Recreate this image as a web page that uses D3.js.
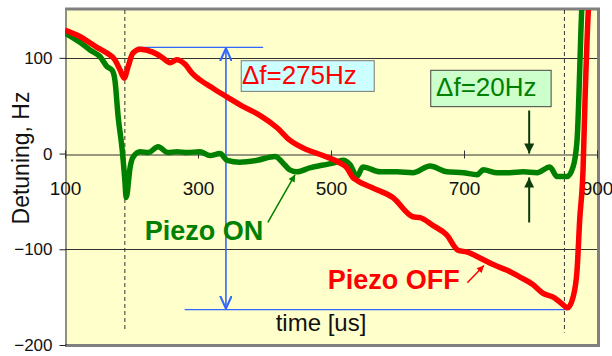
<!DOCTYPE html>
<html>
<head>
<meta charset="utf-8">
<script src="https://cdn.jsdelivr.net/npm/d3@7"></script>
<style>
  body { margin: 0; background: #fff; }
  svg text { font-family: "Liberation Sans", Arial, sans-serif; }
</style>
</head>
<body>
<div id="chart"></div>
<script>
"use strict";

/* global d3 */

// Piezo OFF (red)
const offTime = [100, 123, 148, 163, 175, 183, 189, 195, 202, 213, 232, 247, 258, 268, 281, 291, 303,
  323, 344, 368, 393, 419, 438, 464, 488, 514, 524, 533, 539, 563, 593, 623, 634, 653, 674, 691, 705,
  724, 744, 765, 784, 804, 819, 834, 844, 856, 864, 870, 874, 879, 882, 887, 890];
const offValue = [129, 122, 111, 105, 98, 87, 79, 91, 105, 109, 106, 100, 95, 98, 93, 84, 77,
  68, 59, 49, 40, 27, 14, 4, -2, -10, -15, -25, -28, -36, -46, -66, -67, -75, -85, -101, -103,
  -109, -116, -122, -129, -137, -146, -150, -155, -161, -150, -122, -69, -17, 56, 150, 181];

// Piezo ON (green)
const onTime = [100, 123, 138, 153, 163, 171, 175, 180, 186, 190, 192, 198, 202, 213, 225, 240, 255,
  268, 284, 303, 318, 333, 344, 363, 389, 416, 428, 438, 449, 468, 488, 503, 518, 529, 539, 548,
  574, 599, 623, 649, 674, 699, 720, 729, 750, 769, 789, 810, 829, 840, 855, 864, 870, 877, 879];
const onValue = [126, 116, 108, 101, 91, 87, 77, 38, 4, -28, -46, -14, -4, 2, 1, 7, 1,
  2, 1, 2, -2, 0, -7, -9, -7, -3, -10, -17, -19, -15, -12, -10, -7, -12, -24, -14,
  -19, -19, -20, -13, -19, -20, -22, -17, -20, -20, -19, -20, -14, -24, -24, -14, 14, 150, 181];

const xTicks = [100, 300, 500, 700, 900];
const yTicks = [-200, -100, 0, 100];
const gridValues = [100, -100];

// dashed time markers and their lower ends
const markerTimes = [190, 851];
const markerEnds = [-184, -187];

// delta f = 275 Hz span
const spanTime = 342;
const spanValues = [110, -162];
const topRefTimes = [208, 398];
const topRefValue = 111;
const bottomRefTimes = [280, 856];
const bottomRefValue = -163;

// delta f = 20 Hz arrows
const smallArrowTime = 798;
const smallDownArrow = [45, 0];
const smallUpArrow = [-72, -25];

const width = 612;
const height = 356;

const x = d3.scaleLinear().domain([100, 900]).range([65, 597]);
const y = d3.scaleLinear().domain([-200, 150]).range([345, 10]);

const svg = d3.select('#chart')
  .append('svg')
  .attr('width', width)
  .attr('height', height);

const defs = svg.append('defs');

defs.append('clipPath')
  .attr('id', 'plot-clip')
  .append('rect')
  .attr('x', x.range()[0])
  .attr('y', y.range()[1])
  .attr('width', x.range()[1] - x.range()[0])
  .attr('height', y.range()[0] - y.range()[1]);

let addMarker = (id, color, w, h, open) => {
  let m = defs.append('marker')
    .attr('id', id)
    .attr('viewBox', '0 0 10 10')
    .attr('refX', 10)
    .attr('refY', 5)
    .attr('markerUnits', 'userSpaceOnUse')
    .attr('markerWidth', w)
    .attr('markerHeight', h)
    .attr('orient', 'auto-start-reverse');
  if (open) {
    m.append('path')
      .attr('d', 'M0,0.5 L10,5 L0,9.5')
      .attr('fill', 'none')
      .attr('stroke', color)
      .attr('stroke-width', 1.6);
  } else {
    m.append('path')
      .attr('d', 'M0,0 L10,5 L0,10 Z')
      .attr('fill', color);
  }
};

addMarker('blue-head', '#3366ff', 13, 13, true);
addMarker('dg-head', '#0b3d0b', 12, 10, false);
addMarker('g-head', '#008000', 9, 7, false);
addMarker('r-head', '#ff0000', 9, 7, false);

// plot background
svg.append('rect')
  .attr('x', x.range()[0])
  .attr('y', y.range()[1])
  .attr('width', x.range()[1] - x.range()[0])
  .attr('height', y.range()[0] - y.range()[1])
  .attr('fill', '#ffffcc');

// shadow frame
svg.append('path')
  .attr('d', 'M' + x.range()[0] + ',' + (y.range()[1] - 1) +
    ' H' + (x.range()[1] + 1.5) +
    ' V' + (y.range()[0] + 0.5) +
    ' H' + x.range()[0])
  .attr('fill', 'none')
  .attr('stroke', '#808080')
  .attr('stroke-width', 3);

// grid lines
svg.append('g')
  .selectAll('line')
  .data(gridValues)
  .join('line')
  .attr('x1', x.range()[0])
  .attr('x2', x.range()[1])
  .attr('y1', d => Math.round(y(d)) + 0.5)
  .attr('y2', d => Math.round(y(d)) + 0.5)
  .attr('stroke', '#333')
  .attr('stroke-width', 1);

// y axis
let yAxis = svg.append('g')
  .attr('transform', 'translate(' + (x.range()[0] + 0.5) + ',0)')
  .call(d3.axisLeft(y).tickValues(yTicks).tickSize(6).tickSizeOuter(0).tickPadding(7));
yAxis.select('.domain').attr('stroke', '#222');
yAxis.selectAll('.tick line').attr('stroke', '#222');
yAxis.selectAll('.tick text')
  .attr('font-size', 17)
  .attr('fill', '#111')
  .style('font-family', '"Liberation Sans", Arial, sans-serif');

// x axis crossing at 0
let xAxis = svg.append('g')
  .attr('transform', 'translate(0,' + (Math.round(y(0)) + 0.5) + ')')
  .call(d3.axisBottom(x).tickValues(xTicks).tickSize(4).tickSizeOuter(0));
xAxis.select('.domain').attr('stroke', '#333');
xAxis.selectAll('.tick line').attr('y1', -4).attr('stroke', '#333');
xAxis.selectAll('.tick text')
  .attr('font-size', 19)
  .attr('fill', '#111')
  .attr('y', 40)
  .attr('dy', 0)
  .style('font-family', '"Liberation Sans", Arial, sans-serif');

// dashed markers
svg.append('g')
  .selectAll('line')
  .data(markerTimes)
  .join('line')
  .attr('x1', d => x(d))
  .attr('x2', d => x(d))
  .attr('y1', y.range()[1])
  .attr('y2', (d, i) => y(markerEnds[i]))
  .attr('stroke', '#333')
  .attr('stroke-width', 1)
  .attr('stroke-dasharray', '4,3');

// blue span annotation
let blue = svg.append('g')
  .attr('stroke', '#3366ff')
  .attr('stroke-width', 1.3)
  .attr('fill', 'none');

blue.append('line')
  .attr('x1', x(topRefTimes[0]))
  .attr('x2', x(topRefTimes[1]))
  .attr('y1', y(topRefValue))
  .attr('y2', y(topRefValue));

blue.append('line')
  .attr('x1', x(bottomRefTimes[0]))
  .attr('x2', x(bottomRefTimes[1]))
  .attr('y1', y(bottomRefValue))
  .attr('y2', y(bottomRefValue));

blue.append('line')
  .attr('x1', x(spanTime))
  .attr('x2', x(spanTime))
  .attr('y1', y(spanValues[0]))
  .attr('y2', y(spanValues[1]))
  .attr('stroke-width', 1.6)
  .attr('marker-start', 'url(#blue-head)')
  .attr('marker-end', 'url(#blue-head)');

// curves
let line = d3.line()
  .x(d => x(d[0]))
  .y(d => y(d[1]))
  .curve(d3.curveMonotoneX);

let curves = svg.append('g')
  .attr('clip-path', 'url(#plot-clip)');

curves.append('path')
  .datum(onTime.map((t, i) => [t, onValue[i]]))
  .attr('d', line)
  .attr('fill', 'none')
  .attr('stroke', '#008000')
  .attr('stroke-width', 5.5)
  .attr('stroke-linejoin', 'round');

curves.append('path')
  .datum(offTime.map((t, i) => [t, offValue[i]]))
  .attr('d', line)
  .attr('fill', 'none')
  .attr('stroke', '#ff0000')
  .attr('stroke-width', 5.5)
  .attr('stroke-linejoin', 'round');

// delta f boxes
svg.append('rect')
  .attr('x', x(365))
  .attr('y', y(97))
  .attr('width', x(565) - x(365))
  .attr('height', y(65) - y(97))
  .attr('fill', '#ccffff')
  .attr('stroke', '#777')
  .attr('stroke-width', 1);

svg.append('text')
  .attr('x', x(366))
  .attr('y', y(72.5))
  .attr('font-size', 26)
  .attr('fill', '#ff0000')
  .text('\u0394f=275Hz');

svg.append('rect')
  .attr('x', x(650))
  .attr('y', y(87))
  .attr('width', x(831) - x(650))
  .attr('height', y(49) - y(87))
  .attr('fill', '#ccffcc')
  .attr('stroke', '#444')
  .attr('stroke-width', 1);

svg.append('text')
  .attr('x', x(658))
  .attr('y', y(60))
  .attr('font-size', 26)
  .attr('fill', '#008000')
  .text('\u0394f=20Hz');

// 20 Hz arrows
svg.append('line')
  .attr('x1', x(smallArrowTime))
  .attr('x2', x(smallArrowTime))
  .attr('y1', y(smallDownArrow[0]))
  .attr('y2', y(smallDownArrow[1]))
  .attr('stroke', '#0b3d0b')
  .attr('stroke-width', 2)
  .attr('marker-end', 'url(#dg-head)');

svg.append('line')
  .attr('x1', x(smallArrowTime))
  .attr('x2', x(smallArrowTime))
  .attr('y1', y(smallUpArrow[0]))
  .attr('y2', y(smallUpArrow[1]))
  .attr('stroke', '#0b3d0b')
  .attr('stroke-width', 2)
  .attr('marker-end', 'url(#dg-head)');

// series labels
svg.append('text')
  .attr('x', x(220))
  .attr('y', y(-90))
  .attr('font-size', 27)
  .attr('font-weight', 'bold')
  .attr('fill', '#008000')
  .text('Piezo ON');

svg.append('line')
  .attr('x1', x(405))
  .attr('y1', y(-72))
  .attr('x2', x(446))
  .attr('y2', y(-22))
  .attr('stroke', '#008000')
  .attr('stroke-width', 1.5)
  .attr('marker-end', 'url(#g-head)');

svg.append('text')
  .attr('x', x(495))
  .attr('y', y(-142))
  .attr('font-size', 27)
  .attr('font-weight', 'bold')
  .attr('fill', '#ff0000')
  .text('Piezo OFF');

svg.append('line')
  .attr('x1', x(705))
  .attr('y1', y(-135))
  .attr('x2', x(730))
  .attr('y2', y(-117))
  .attr('stroke', '#ff0000')
  .attr('stroke-width', 1.5)
  .attr('marker-end', 'url(#r-head)');

// axis titles
svg.append('text')
  .attr('transform', 'translate(29,158) rotate(-90)')
  .attr('text-anchor', 'middle')
  .attr('font-size', 23)
  .attr('fill', '#111')
  .text('Detuning, Hz');

svg.append('text')
  .attr('x', 321)
  .attr('y', 331)
  .attr('text-anchor', 'middle')
  .attr('font-size', 24)
  .attr('fill', '#111')
  .text('time [us]');
</script>
</body>
</html>
